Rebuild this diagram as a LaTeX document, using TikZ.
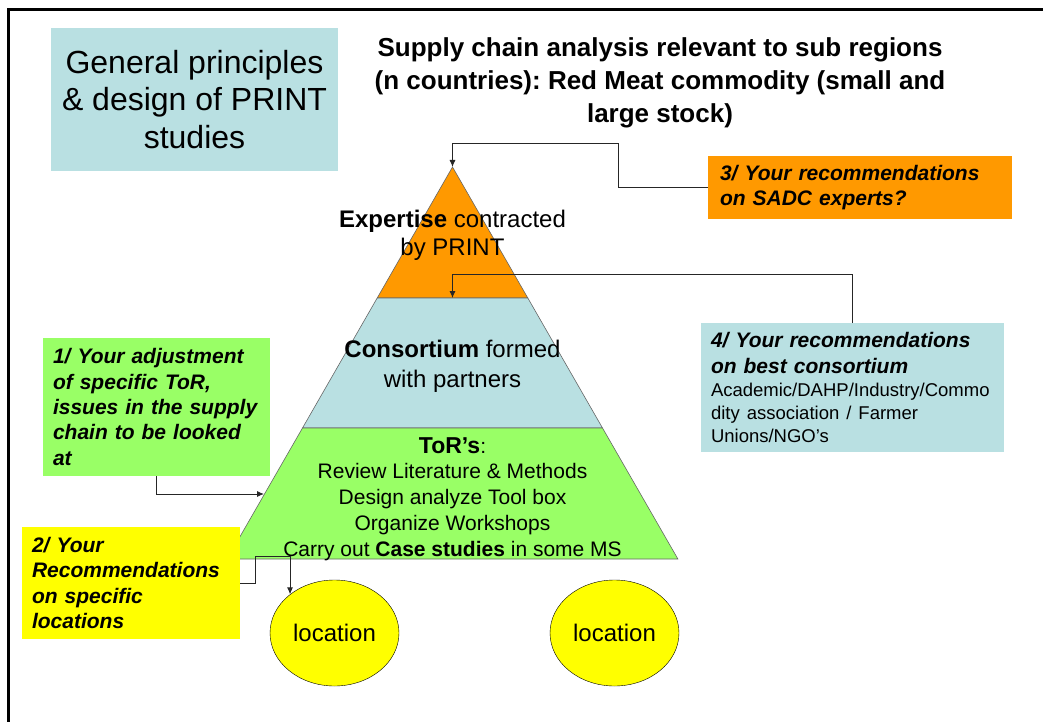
\documentclass[tikz,border=0pt]{standalone}
\usepackage{fontspec}
\setmainfont{Liberation Sans}
\usetikzlibrary{arrows.meta,shapes.geometric}
\frenchspacing

\definecolor{printblue}{HTML}{B9E0E2}
\definecolor{printorange}{HTML}{FF9900}
\definecolor{printgreen}{HTML}{99FF66}
\definecolor{printyellow}{HTML}{FFFF00}

\tikzset{
  layer/.style={draw=black!60, line width=0.6pt},
  note/.style={inner xsep=10pt, inner ysep=0pt, align=left,
    font=\fontsize{21}{25.3}\selectfont\bfseries\itshape},
  spot/.style={ellipse, draw, fill=printyellow, inner sep=0pt,
    minimum width=129pt, minimum height=106pt, font=\fontsize{24}{28}\selectfont},
  link/.style={draw=black!85, line width=0.9pt, -{Latex[length=7pt,width=6pt]}}
}

\begin{document}
\begin{tikzpicture}[x=1pt,y=-1pt]
    \useasboundingbox (0,0) rectangle (1043,722);
    \draw[line width=3pt] (8.5,722) -- (8.5,10) -- (1043,10);

    % pyramid
    \coordinate (apex) at (452.5,167);
    \coordinate (t1) at (452.5,298);
    \coordinate (e1) at (264,494);
    \filldraw[layer, fill=printorange] (apex) -- (527.8,298) -- (377.2,298) -- cycle;
    \filldraw[layer, fill=printblue] (377.2,298) -- (527.8,298) -- (602.5,428) -- (302.5,428) -- cycle;
    \filldraw[layer, fill=printgreen] (302.5,428) -- (602.5,428) -- (677.9,559) -- (227.1,559) -- cycle;

    \node[align=center, font=\fontsize{24}{28}\selectfont] (expert) at (452.5,235)
      {\textbf{Expertise} contracted\\by PRINT};
    \node[align=center, font=\fontsize{24}{30}\selectfont] (consort) at (452.5,366)
      {\textbf{Consortium} formed\\with partners};
    \node[align=center, font=\fontsize{21}{25.8}\selectfont] (tors) at (452.5,499)
      {{\fontsize{23}{25.8}\selectfont\textbf{ToR’s}}:\\Review Literature \& Methods\\Design analyze Tool box\\Organize Workshops\\Carry out \textbf{Case studies} in some MS};

    % headings
    \node[fill=printblue, minimum width=287pt, minimum height=143pt, align=center,
      font=\fontsize{32}{37.5}\selectfont] (principles) at (194.5,99.5)
      {General principles\\\& design of PRINT\\studies};
    \node[align=center, font=\fontsize{26}{33}\selectfont\bfseries] (title) at (660,83)
      {Supply chain analysis relevant to sub regions\\(n countries): Red Meat commodity (small and\\large stock)};

    % questions
    \node[note, fill=printgreen, text width=207pt, minimum height=138pt] (adjust) at (156.5,407)
      {1/ Your adjustment\\of specific ToR,\\issues in the supply\\chain to be looked\\at};
    \node[note, fill=printyellow, text width=198pt, minimum height=112pt] (spots) at (131,583)
      {2/ Your\\Recommendations\\on specific\\locations};
    \node[note, fill=printorange, inner xsep=12pt, text width=280pt, minimum height=63pt] (experts) at (860,187.5)
      {3/ Your recommendations\\on SADC experts?};
    \node[note, fill=printblue, text width=283pt, minimum height=129pt] (consortia) at (852.5,387.5)
      {4/ Your recommendations\\on best consortium\\{\mdseries\upshape\fontsize{18.5}{23}\selectfont Academic/DAHP/Industry/Commo\\dity association / Farmer\\Unions/NGO’s\par}};

    \node[spot] (loc1) at (334.5,633) {location};
    \node[spot] (loc2) at (614.5,633) {location};

    \draw[link] (experts.west) -- ++(-89,0) |- ([yshift=24pt]apex) -- (apex);
    \draw[link] (consortia.north) |- ([yshift=24pt]t1) -- (t1);
    \draw[link] (adjust.south) |- (e1);
    \draw[link] (spots.east) -- ++(15,0) |- ([yshift=38pt]loc1.139) -- (loc1.139);
\end{tikzpicture}
\end{document}
